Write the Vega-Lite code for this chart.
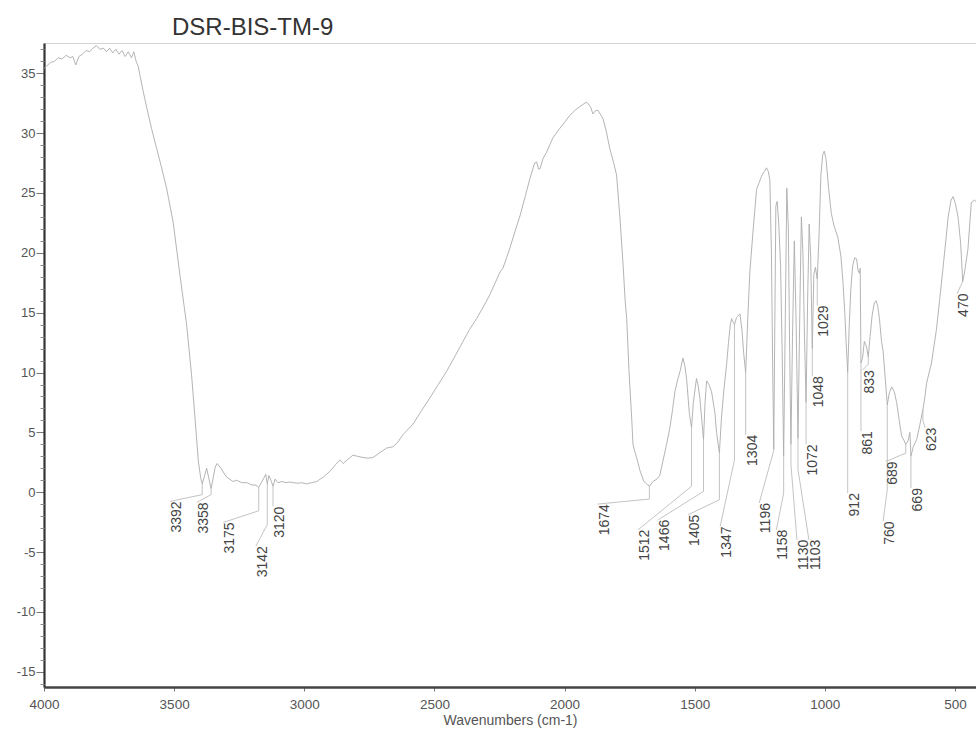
{
  "$schema": "https://vega.github.io/schema/vega-lite/v6.json",
  "width": 932,
  "height": 644,
  "autosize": {"type": "none"},
  "padding": {"left": 44, "top": 43, "right": 0, "bottom": 44},
  "background": "white",
  "title": {"text": "DSR-BIS-TM-9", "anchor": "start", "frame": "group", "dx": 128, "dy": 22, "offset": 6, "baseline": "alphabetic", "font": "Liberation Sans", "fontSize": 24, "fontWeight": "normal", "color": "#333"},
  "config": {"view": {"stroke": "#d4d4d4", "strokeWidth": 1}},
  "datasets": {
    "spectrum": [
      {"wn":4000,"t":35.4},{"wn":3990,"t":35.6},{"wn":3975,"t":35.9},{"wn":3960,"t":36.0},{"wn":3945,"t":36.3},{"wn":3930,"t":36.2},{"wn":3915,"t":36.5},{"wn":3900,"t":36.3},{"wn":3889,"t":36.4},{"wn":3878,"t":35.7},{"wn":3866,"t":36.4},{"wn":3852,"t":36.6},{"wn":3838,"t":36.9},{"wn":3825,"t":36.8},{"wn":3812,"t":37.1},{"wn":3798,"t":37.3},{"wn":3785,"t":37.0},{"wn":3772,"t":37.1},{"wn":3760,"t":36.8},{"wn":3748,"t":37.1},{"wn":3736,"t":36.7},{"wn":3724,"t":37.0},{"wn":3712,"t":36.6},{"wn":3700,"t":36.9},{"wn":3688,"t":36.4},{"wn":3676,"t":36.8},{"wn":3664,"t":36.3},{"wn":3655,"t":36.8},{"wn":3646,"t":36.0},{"wn":3638,"t":35.6},{"wn":3631,"t":34.8},{"wn":3620,"t":33.6},{"wn":3605,"t":32.1},{"wn":3587,"t":30.4},{"wn":3567,"t":28.7},{"wn":3548,"t":27.1},{"wn":3529,"t":25.4},{"wn":3504,"t":22.6},{"wn":3478,"t":18.2},{"wn":3452,"t":14.0},{"wn":3433,"t":9.8},{"wn":3418,"t":5.7},{"wn":3407,"t":2.6},{"wn":3398,"t":1.2},{"wn":3392,"t":0.7},{"wn":3384,"t":1.3},{"wn":3375,"t":2.0},{"wn":3367,"t":1.2},{"wn":3358,"t":0.3},{"wn":3350,"t":1.2},{"wn":3342,"t":2.1},{"wn":3335,"t":2.4},{"wn":3320,"t":2.0},{"wn":3300,"t":1.3},{"wn":3274,"t":0.9},{"wn":3260,"t":1.0},{"wn":3240,"t":0.8},{"wn":3221,"t":0.8},{"wn":3200,"t":0.6},{"wn":3185,"t":0.6},{"wn":3175,"t":0.4},{"wn":3165,"t":0.8},{"wn":3155,"t":1.2},{"wn":3148,"t":1.5},{"wn":3142,"t":0.7},{"wn":3136,"t":1.4},{"wn":3128,"t":1.0},{"wn":3120,"t":0.5},{"wn":3112,"t":1.1},{"wn":3101,"t":0.8},{"wn":3085,"t":0.9},{"wn":3070,"t":0.8},{"wn":3055,"t":0.85},{"wn":3043,"t":0.8},{"wn":3025,"t":0.75},{"wn":3010,"t":0.8},{"wn":2991,"t":0.7},{"wn":2970,"t":0.8},{"wn":2952,"t":0.9},{"wn":2925,"t":1.3},{"wn":2901,"t":1.75},{"wn":2880,"t":2.3},{"wn":2863,"t":2.7},{"wn":2851,"t":2.4},{"wn":2835,"t":2.7},{"wn":2813,"t":3.1},{"wn":2795,"t":3.0},{"wn":2774,"t":2.9},{"wn":2755,"t":2.85},{"wn":2736,"t":2.9},{"wn":2710,"t":3.3},{"wn":2683,"t":3.7},{"wn":2659,"t":3.8},{"wn":2640,"t":4.2},{"wn":2621,"t":4.8},{"wn":2582,"t":5.7},{"wn":2550,"t":6.8},{"wn":2517,"t":7.9},{"wn":2485,"t":9.0},{"wn":2453,"t":10.1},{"wn":2420,"t":11.4},{"wn":2390,"t":12.6},{"wn":2365,"t":13.6},{"wn":2338,"t":14.5},{"wn":2314,"t":15.4},{"wn":2287,"t":16.5},{"wn":2260,"t":17.8},{"wn":2248,"t":18.4},{"wn":2237,"t":18.7},{"wn":2224,"t":19.5},{"wn":2210,"t":20.4},{"wn":2190,"t":21.8},{"wn":2171,"t":23.1},{"wn":2150,"t":24.8},{"wn":2133,"t":26.2},{"wn":2115,"t":27.5},{"wn":2107,"t":27.6},{"wn":2100,"t":27.0},{"wn":2095,"t":27.0},{"wn":2082,"t":27.9},{"wn":2069,"t":28.4},{"wn":2045,"t":29.6},{"wn":2018,"t":30.4},{"wn":2000,"t":30.9},{"wn":1979,"t":31.5},{"wn":1955,"t":32.0},{"wn":1929,"t":32.4},{"wn":1915,"t":32.6},{"wn":1900,"t":32.2},{"wn":1891,"t":31.6},{"wn":1880,"t":31.9},{"wn":1872,"t":31.9},{"wn":1860,"t":31.5},{"wn":1852,"t":31.2},{"wn":1840,"t":30.2},{"wn":1826,"t":28.7},{"wn":1812,"t":27.6},{"wn":1800,"t":26.5},{"wn":1787,"t":22.9},{"wn":1775,"t":19.0},{"wn":1767,"t":16.0},{"wn":1761,"t":14.5},{"wn":1752,"t":10.0},{"wn":1742,"t":6.2},{"wn":1737,"t":4.0},{"wn":1730,"t":3.4},{"wn":1723,"t":2.9},{"wn":1710,"t":1.8},{"wn":1695,"t":0.9},{"wn":1685,"t":0.7},{"wn":1674,"t":0.5},{"wn":1660,"t":0.9},{"wn":1645,"t":1.1},{"wn":1634,"t":1.4},{"wn":1622,"t":2.6},{"wn":1608,"t":4.0},{"wn":1595,"t":5.4},{"wn":1585,"t":6.9},{"wn":1576,"t":8.4},{"wn":1564,"t":9.5},{"wn":1555,"t":10.2},{"wn":1545,"t":11.2},{"wn":1538,"t":10.6},{"wn":1531,"t":9.5},{"wn":1520,"t":6.5},{"wn":1512,"t":5.4},{"wn":1505,"t":7.5},{"wn":1493,"t":9.5},{"wn":1488,"t":9.1},{"wn":1480,"t":7.9},{"wn":1466,"t":4.4},{"wn":1460,"t":7.5},{"wn":1454,"t":9.3},{"wn":1445,"t":9.0},{"wn":1435,"t":8.4},{"wn":1422,"t":6.6},{"wn":1416,"t":5.0},{"wn":1405,"t":3.3},{"wn":1397,"t":6.2},{"wn":1388,"t":8.5},{"wn":1378,"t":10.5},{"wn":1370,"t":12.5},{"wn":1363,"t":14.0},{"wn":1358,"t":14.5},{"wn":1352,"t":14.2},{"wn":1347,"t":14.0},{"wn":1339,"t":14.6},{"wn":1326,"t":14.9},{"wn":1318,"t":13.5},{"wn":1312,"t":11.7},{"wn":1304,"t":10.0},{"wn":1296,"t":14.5},{"wn":1288,"t":18.4},{"wn":1275,"t":22.0},{"wn":1262,"t":25.3},{"wn":1243,"t":26.4},{"wn":1232,"t":26.8},{"wn":1224,"t":27.1},{"wn":1217,"t":26.8},{"wn":1211,"t":26.1},{"wn":1205,"t":20.0},{"wn":1200,"t":10.0},{"wn":1196,"t":3.6},{"wn":1192,"t":14.0},{"wn":1188,"t":23.9},{"wn":1183,"t":24.3},{"wn":1177,"t":22.5},{"wn":1170,"t":19.0},{"wn":1164,"t":12.0},{"wn":1158,"t":3.0},{"wn":1152,"t":14.0},{"wn":1146,"t":25.4},{"wn":1140,"t":22.0},{"wn":1135,"t":12.0},{"wn":1130,"t":4.0},{"wn":1124,"t":13.0},{"wn":1117,"t":21.0},{"wn":1110,"t":14.0},{"wn":1103,"t":4.5},{"wn":1096,"t":15.0},{"wn":1090,"t":23.0},{"wn":1084,"t":20.0},{"wn":1078,"t":13.0},{"wn":1072,"t":7.5},{"wn":1066,"t":16.0},{"wn":1060,"t":22.4},{"wn":1054,"t":19.5},{"wn":1048,"t":12.0},{"wn":1042,"t":18.2},{"wn":1036,"t":18.8},{"wn":1029,"t":17.8},{"wn":1022,"t":21.5},{"wn":1015,"t":26.5},{"wn":1008,"t":28.2},{"wn":1002,"t":28.5},{"wn":995,"t":27.8},{"wn":985,"t":25.3},{"wn":975,"t":23.3},{"wn":965,"t":22.3},{"wn":950,"t":21.3},{"wn":938,"t":19.7},{"wn":930,"t":17.5},{"wn":923,"t":15.0},{"wn":918,"t":12.5},{"wn":912,"t":10.0},{"wn":906,"t":14.0},{"wn":900,"t":17.0},{"wn":893,"t":18.9},{"wn":885,"t":19.6},{"wn":878,"t":19.5},{"wn":872,"t":18.5},{"wn":867,"t":18.3},{"wn":864,"t":18.7},{"wn":861,"t":10.8},{"wn":855,"t":11.2},{"wn":848,"t":12.6},{"wn":840,"t":12.2},{"wn":833,"t":11.3},{"wn":826,"t":13.0},{"wn":818,"t":14.8},{"wn":810,"t":15.8},{"wn":803,"t":16.0},{"wn":797,"t":15.6},{"wn":790,"t":14.5},{"wn":782,"t":12.6},{"wn":776,"t":11.8},{"wn":768,"t":9.6},{"wn":760,"t":7.3},{"wn":752,"t":8.3},{"wn":743,"t":8.8},{"wn":733,"t":8.4},{"wn":724,"t":7.5},{"wn":714,"t":6.0},{"wn":705,"t":4.7},{"wn":695,"t":4.3},{"wn":689,"t":4.0},{"wn":680,"t":4.3},{"wn":673,"t":5.0},{"wn":669,"t":3.0},{"wn":660,"t":3.8},{"wn":647,"t":4.4},{"wn":635,"t":5.6},{"wn":623,"t":6.9},{"wn":615,"t":8.0},{"wn":609,"t":9.1},{"wn":590,"t":10.8},{"wn":571,"t":13.6},{"wn":558,"t":16.2},{"wn":545,"t":18.9},{"wn":535,"t":21.0},{"wn":526,"t":23.0},{"wn":515,"t":24.4},{"wn":507,"t":24.7},{"wn":498,"t":24.1},{"wn":488,"t":23.0},{"wn":478,"t":20.8},{"wn":470,"t":17.6},{"wn":462,"t":18.5},{"wn":450,"t":20.3},{"wn":437,"t":24.2},{"wn":425,"t":24.4},{"wn":419,"t":24.3}
    ],
    "peaks": [
      {"label":"3392","wn":3392,"t":0.7,"bend":-0.2,"ex":3516,"ey":-0.77},
      {"label":"3358","wn":3358,"t":0.3,"bend":-0.2,"ex":3413,"ey":-0.85},
      {"label":"3175","wn":3175,"t":0.4,"bend":-1.55,"ex":3311,"ey":-2.52},
      {"label":"3142","wn":3142,"t":0.7,"bend":-2.7,"ex":3186,"ey":-4.5},
      {"label":"3120","wn":3120,"t":0.5,"bend":-1.2,"ex":3120,"ey":-1.2},
      {"label":"1674","wn":1674,"t":0.5,"bend":-0.57,"ex":1873,"ey":-0.99},
      {"label":"1512","wn":1512,"t":5.4,"bend":0.5,"ex":1717,"ey":-3.13},
      {"label":"1466","wn":1466,"t":4.4,"bend":0.07,"ex":1640,"ey":-2.3},
      {"label":"1405","wn":1405,"t":3.3,"bend":-0.63,"ex":1525,"ey":-1.88},
      {"label":"1347","wn":1347,"t":14.0,"bend":2.7,"ex":1402,"ey":-2.86},
      {"label":"1304","wn":1304,"t":10.0,"bend":4.8,"ex":1304,"ey":4.8},
      {"label":"1196","wn":1196,"t":3.6,"bend":3.5,"ex":1252,"ey":-0.9},
      {"label":"1158","wn":1158,"t":3.0,"bend":-0.07,"ex":1186,"ey":-3.13},
      {"label":"1130","wn":1130,"t":4.0,"bend":2.3,"ex":1107,"ey":-3.97},
      {"label":"1103","wn":1103,"t":4.5,"bend":1.9,"ex":1061,"ey":-3.97},
      {"label":"1072","wn":1072,"t":7.5,"bend":4.0,"ex":1072,"ey":4.0},
      {"label":"1048","wn":1048,"t":12.0,"bend":9.7,"ex":1048,"ey":9.7},
      {"label":"1029","wn":1029,"t":17.8,"bend":15.6,"ex":1029,"ey":15.6},
      {"label":"912","wn":912,"t":10.0,"bend":-0.07,"ex":912,"ey":-0.07},
      {"label":"861","wn":861,"t":10.8,"bend":5.1,"ex":861,"ey":5.1},
      {"label":"833","wn":833,"t":11.3,"bend":10.7,"ex":855,"ey":10.2},
      {"label":"760","wn":760,"t":7.3,"bend":0.2,"ex":776,"ey":-2.44},
      {"label":"689","wn":689,"t":4.0,"bend":3.27,"ex":765,"ey":2.57},
      {"label":"669","wn":669,"t":3.0,"bend":0.35,"ex":669,"ey":0.35},
      {"label":"623","wn":623,"t":6.9,"bend":6.0,"ex":615,"ey":5.4},
      {"label":"470","wn":470,"t":17.6,"bend":17.6,"ex":492,"ey":16.6}
    ]
  },
  "resolve": {"axis": {"y": "independent"}},
  "layer": [
    {
      "data": {"name": "spectrum"},
      "mark": {"type": "line", "stroke": "#ababab", "strokeWidth": 0.9, "interpolate": "linear"},
      "encoding": {
        "x": {"field": "wn", "type": "quantitative", "title": "Wavenumbers (cm-1)",
              "scale": {"domain": [4000, 419], "nice": false, "zero": false},
              "axis": {"values": [4000, 3500, 3000, 2500, 2000, 1500, 1000, 500], "format": "d", "grid": false, "tickSize": 4, "tickColor": "#777", "domainColor": "#444", "domainWidth": 2.5, "labelFont": "Liberation Sans", "labelFontSize": 13.5, "labelColor": "#555", "labelPadding": 6, "labelFlush": false, "labelOverlap": false, "titleFont": "Liberation Sans", "titleFontSize": 14, "titleFontWeight": "normal", "titleColor": "#555", "titlePadding": 3}},
        "y": {"field": "t", "type": "quantitative",
              "scale": {"domain": [-16.27, 37.53], "nice": false, "zero": false},
              "axis": {"orient": "left", "title": null, "values": [-15, -10, -5, 0, 5, 10, 15, 20, 25, 30, 35], "grid": false, "tickSize": 8, "tickColor": "#777", "domainColor": "#333", "domainWidth": 2.2, "labelFont": "Liberation Sans", "labelFontSize": 13, "labelColor": "#555", "labelPadding": 1, "labelExpr": "'' + datum.value"}}
      }
    },
    {
      "data": {"name": "peaks"},
      "mark": {"type": "rule", "stroke": "#b4b4b4", "strokeWidth": 0.8},
      "encoding": {
        "x": {"field": "wn", "type": "quantitative", "title": "Wavenumbers (cm-1)"},
        "y": {"field": "t", "type": "quantitative",
              "axis": {"orient": "left", "title": null, "values": [-16,-14,-13,-12,-11,-9,-8,-7,-6,-4,-3,-2,-1,1,2,3,4,6,7,8,9,11,12,13,14,16,17,18,19,21,22,23,24,26,27,28,29,31,32,33,34,36,37], "labels": false, "domain": false, "grid": false, "tickSize": 4, "tickColor": "#888"}},
        "y2": {"field": "bend"}
      }
    },
    {
      "data": {"name": "peaks"},
      "mark": {"type": "rule", "stroke": "#b4b4b4", "strokeWidth": 0.8},
      "encoding": {
        "x": {"field": "wn", "type": "quantitative", "title": "Wavenumbers (cm-1)"},
        "x2": {"field": "ex"},
        "y": {"field": "bend", "type": "quantitative", "axis": null},
        "y2": {"field": "ey"}
      }
    },
    {
      "data": {"name": "peaks"},
      "mark": {"type": "text", "angle": 270, "align": "right", "baseline": "top", "font": "Liberation Sans", "fontSize": 14, "fill": "#444"},
      "encoding": {
        "x": {"field": "ex", "type": "quantitative", "title": "Wavenumbers (cm-1)"},
        "y": {"field": "ey", "type": "quantitative", "axis": null},
        "text": {"field": "label"}
      }
    }
  ]
}
